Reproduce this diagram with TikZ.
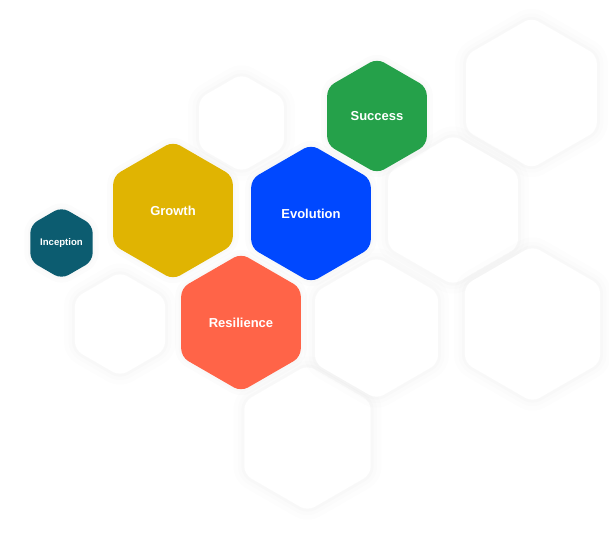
\documentclass[tikz,border=0pt]{standalone}
\usepackage{fontspec}
\setmainfont{Liberation Sans}
\usetikzlibrary{shapes.geometric}

\definecolor{incepc}{HTML}{0C5C70}
\definecolor{growthc}{HTML}{E0B402}
\definecolor{evolc}{HTML}{0048FF}
\definecolor{succc}{HTML}{25A14A}
\definecolor{resilc}{HTML}{FF6448}

\tikzset{
  hexa/.style={regular polygon, regular polygon sides=6, shape border rotate=30,
    inner sep=0pt, rounded corners=8pt, minimum size=#1},
  ghost/.style={hexa=#1, fill=white,
    preaction={draw=black, draw opacity=.006, line width=22pt},
    preaction={draw=black, draw opacity=.008, line width=13pt},
    preaction={draw=black, draw opacity=.01, line width=6pt}},
  tile/.style={hexa=#1, text=white, font=\bfseries\fontsize{13}{15}\selectfont,
    preaction={draw=black, draw opacity=.01, line width=12pt},
    preaction={draw=black, draw opacity=.012, line width=5pt}}
}

\begin{document}
\begin{tikzpicture}[x=1pt,y=-1pt]
  \useasboundingbox (0,0) rectangle (609,543);
  % ===================== panal de fondo =====================
  \foreach \gx/\gy/\gd [count=\i] in {241.5/123/98, 120/324/104, 307.5/438/146,
      376.5/328/142, 531.5/93/151, 453/210/150, 532.5/324/156}
    \node[ghost=\gd pt] (g\i) at (\gx,\gy) {};
  % ===================== etapas =====================
  \node[tile=72pt, fill=incepc, font=\bfseries\fontsize{9.6}{11}\selectfont] (inception) at (61.5,243) {Inception};
  \node[tile=138pt, fill=growthc] (growth) at (173,210.5) {Growth};
  \node[tile=138pt, fill=evolc] (evolution) at (311,213.5) {Evolution};
  \node[tile=115pt, fill=succc] (success) at (377,116) {Success};
  \node[tile=138pt, fill=resilc] (resilience) at (241,322.5) {Resilience};
\end{tikzpicture}
\end{document}
